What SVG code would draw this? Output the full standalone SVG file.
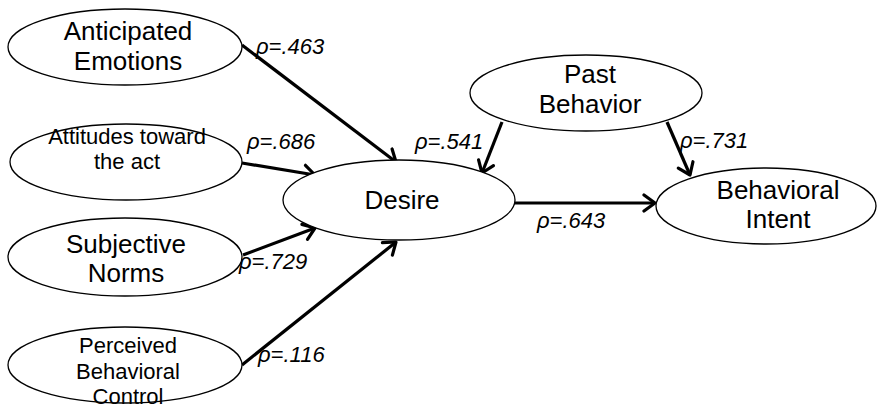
<svg xmlns="http://www.w3.org/2000/svg" width="879" height="409" viewBox="0 0 879 409">
<style>
.node ellipse{fill:#fff;stroke:#000;stroke-width:1.3}
.big{font-family:"Liberation Sans",Arial,sans-serif;font-size:26px;text-anchor:middle;fill:#000}
.small{font-family:"Liberation Sans",Arial,sans-serif;font-size:22px;text-anchor:middle;fill:#000}
.lbl{font-family:"Liberation Sans",Arial,sans-serif;font-size:22px;font-style:italic;fill:#000}
.edge{stroke:#000;stroke-width:3.2;fill:none;marker-end:url(#arr)}
</style>
<defs>
<marker id="arr" markerUnits="userSpaceOnUse" markerWidth="20" markerHeight="20" refX="14" refY="10" orient="auto" viewBox="0 0 20 20">
<path d="M3,2 L14,10 L3,18" fill="none" stroke="#000" stroke-width="3.2" stroke-linecap="round" stroke-linejoin="round"/>
</marker>
</defs>
<g id="connectors">
<line class="edge" x1="242" y1="45" x2="396" y2="162"/>
<line class="edge" x1="242" y1="163" x2="315" y2="175"/>
<line class="edge" x1="243" y1="255" x2="315" y2="228"/>
<line class="edge" x1="242" y1="365" x2="396" y2="242"/>
<line class="edge" x1="502" y1="122" x2="482" y2="173"/>
<line class="edge" x1="667" y1="122" x2="690" y2="175"/>
<line class="edge" x1="515" y1="203" x2="655" y2="203"/>
<text class="lbl" x="256" y="54">ρ=.463</text>
<text class="lbl" x="247" y="149">ρ=.686</text>
<text class="lbl" x="239" y="269">ρ=.729</text>
<text class="lbl" x="258" y="362">ρ=.116</text>
<text class="lbl" x="415" y="149">ρ=.541</text>
<text class="lbl" x="680" y="148">ρ=.731</text>
<text class="lbl" x="537" y="228">ρ=.643</text>
</g>
<g id="anticipated" class="node">
<ellipse cx="125" cy="47" rx="117" ry="38"/>
<text class="big" x="128" y="40">Anticipated</text>
<text class="big" x="128" y="70">Emotions</text>
</g>
<g id="attitudes" class="node">
<ellipse cx="126" cy="162" rx="116" ry="38"/>
<text class="small" x="127" y="144">Attitudes toward</text>
<text class="small" x="127" y="169">the act</text>
</g>
<g id="subjective" class="node">
<ellipse cx="125" cy="257" rx="117" ry="39"/>
<text class="big" x="126" y="253">Subjective</text>
<text class="big" x="126" y="282">Norms</text>
</g>
<g id="perceived" class="node">
<ellipse cx="125" cy="365" rx="117" ry="38"/>
<text class="small" x="128" y="353">Perceived</text>
<text class="small" x="128" y="379">Behavioral</text>
<text class="small" x="128" y="404">Control</text>
</g>
<g id="desire" class="node">
<ellipse cx="399" cy="200" rx="116" ry="40"/>
<text class="big" x="402" y="209">Desire</text>
</g>
<g id="past" class="node">
<ellipse cx="586" cy="93" rx="116" ry="38"/>
<text class="big" x="590" y="83">Past</text>
<text class="big" x="590" y="113">Behavior</text>
</g>
<g id="intent" class="node">
<ellipse cx="766" cy="206" rx="110" ry="38"/>
<text class="big" x="778" y="199">Behavioral</text>
<text class="big" x="778" y="228">Intent</text>
</g>
</svg>
